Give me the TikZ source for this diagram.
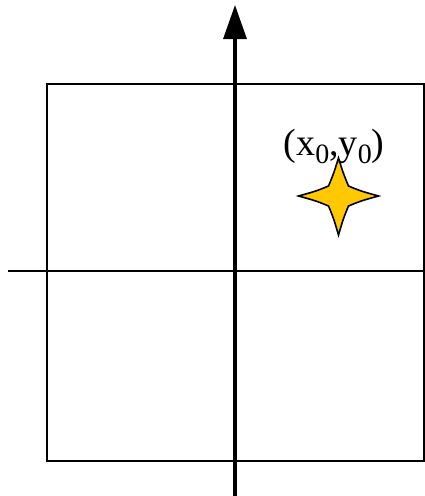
\documentclass[tikz,border=0pt]{standalone}
\usepackage{fontspec}
\setmainfont{Liberation Serif}
\usetikzlibrary{arrows.meta}
\definecolor{stargold}{HTML}{FFC800}
\tikzset{
  frame/.style={draw=black, line width=2pt},
  axis/.style={draw=black, line width=2.5pt},
  yaxis/.style={draw=black, line width=3.2pt, -{Triangle[length=34pt,width=23pt]}},
  starshape/.style={draw=black, line width=1.6pt, fill=stargold, line join=miter},
  coordlabel/.style={font=\fontsize{38}{38}\selectfont, inner sep=0pt, anchor=base}
}
\newcommand{\subzero}{\raisebox{-8pt}{\fontsize{28}{28}\selectfont 0}}
\begin{document}
\begin{tikzpicture}[x=1pt,y=-1pt]
\useasboundingbox (0,0) rectangle (424,496);
\fill[white] (0,0) rectangle (424,496);
% frame
\node[frame, minimum width=377pt, minimum height=377pt, inner sep=0pt, anchor=north west] (box) at (46,83) {};
% horizontal axis
\coordinate (xl) at (8,271);
\coordinate (xr) at (424,271);
\draw[axis] (xl) -- (xr);
% vertical axis
\coordinate (yb) at (235,496);
\coordinate (yt) at (235,5);
\draw[yaxis] (yb) -- (yt);
% star
\coordinate (sc) at (338.5,196);
\draw[starshape, shift={(sc)}]
  (0,-38) .. controls (-5,-22) .. (-10,-10)
  .. controls (-22,-5) .. (-40,0)
  .. controls (-22,5) .. (-10,10)
  .. controls (-5,22) .. (0,39)
  .. controls (5,22) .. (10,10)
  .. controls (22,5) .. (40,0)
  .. controls (22,-5) .. (10,-10)
  .. controls (5,-22) .. (0,-38) -- cycle;
% label
\node[coordlabel] (lbl) at (334,155) {(x\subzero,y\subzero)};
\end{tikzpicture}
\end{document}
